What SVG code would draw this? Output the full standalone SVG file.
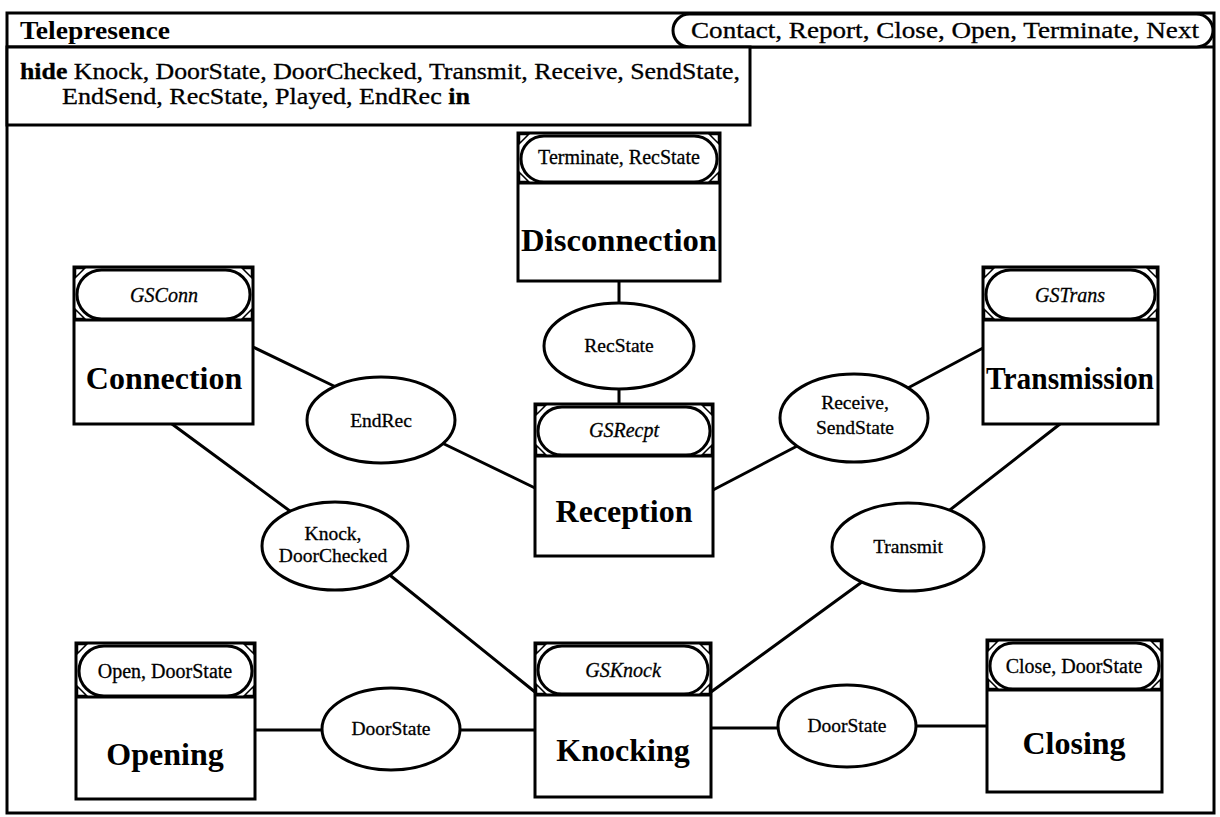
<svg xmlns="http://www.w3.org/2000/svg" width="1220" height="817" viewBox="0 0 1220 817">
  <style>
    .frame { fill: #fff; stroke: #000; stroke-width: 3; }
    .box { fill: #fff; stroke: #000; stroke-width: 3; }
    .pill { fill: #fff; stroke: #000; stroke-width: 3; }
    .corner { fill: #fff; stroke: #000; stroke-width: 1.5; }
    .sep { stroke: #000; stroke-width: 3; }
    .oval { fill: #fff; stroke: #000; stroke-width: 3; }
    .wire { stroke: #000; stroke-width: 3; fill: none; stroke-linecap: round; }
    text { font-family: "Liberation Serif", "Times New Roman", serif; fill: #000; }
    .title { font-size: 25px; font-weight: bold; }
    .hdr { font-size: 23px; stroke: #000; stroke-width: 0.3; }
    .name { font-size: 32px; font-weight: bold; text-anchor: middle; }
    .gate { font-size: 20px; text-anchor: middle; stroke: #000; stroke-width: 0.3; }
    .gs { font-size: 20px; font-style: italic; text-anchor: middle; stroke: #000; stroke-width: 0.3; }
    .lbl { font-size: 19.5px; text-anchor: middle; stroke: #000; stroke-width: 0.3; }
  </style>

  <!-- outer component frame -->
  <rect class="frame" x="7" y="13" width="1207" height="800"/>

  <g id="header">
    <line class="sep" x1="7" y1="47" x2="1214" y2="47"/>
    <text class="title" x="20" y="39" textLength="150" lengthAdjust="spacingAndGlyphs">Telepresence</text>
    <rect class="pill" x="673" y="14" width="540" height="33" rx="16.5"/>
    <text class="hdr" x="691" y="38" textLength="508" lengthAdjust="spacingAndGlyphs">Contact, Report, Close, Open, Terminate, Next</text>
  </g>

  <g id="hide-clause">
    <rect class="box" x="7" y="47" width="743" height="78"/>
    <text class="hdr" x="20" y="79" textLength="720" lengthAdjust="spacingAndGlyphs"><tspan font-weight="bold">hide</tspan> Knock, DoorState, DoorChecked, Transmit, Receive, SendState,</text>
    <text class="hdr" x="62" y="104" textLength="408" lengthAdjust="spacingAndGlyphs">EndSend, RecState, Played, EndRec <tspan font-weight="bold">in</tspan></text>
  </g>

  <!-- connectors (drawn beneath the nodes) -->
  <g id="connectors">
    <line class="wire" x1="619" y1="281" x2="619" y2="308"/>
    <line class="wire" x1="619" y1="385" x2="619" y2="404"/>
    <line class="wire" x1="253" y1="347" x2="338" y2="388"/>
    <line class="wire" x1="440" y1="442" x2="535" y2="488"/>
    <line class="wire" x1="713" y1="490" x2="801" y2="444"/>
    <line class="wire" x1="906" y1="389" x2="983" y2="348"/>
    <line class="wire" x1="172" y1="424" x2="294" y2="514"/>
    <line class="wire" x1="386" y1="572" x2="535" y2="692"/>
    <line class="wire" x1="1060" y1="424" x2="946" y2="513"/>
    <line class="wire" x1="866" y1="579" x2="711" y2="692"/>
    <line class="wire" x1="255" y1="730" x2="326" y2="730"/>
    <line class="wire" x1="456" y1="730" x2="535" y2="730"/>
    <line class="wire" x1="711" y1="728" x2="782" y2="728"/>
    <line class="wire" x1="912" y1="726" x2="987" y2="726"/>
  </g>

  <!-- component boxes: outer rect, gate pill, corner marks, separator, name -->
  <g id="disconnection">
    <rect class="box" x="518" y="133" width="202" height="148"/>
    <path class="corner" d="M519.5 134.5h9l-9 9z M718.5 134.5h-9l9 9z M519.5 181.5h9l-9-9z M718.5 181.5h-9l9-9z"/>
    <rect class="pill" x="521" y="136" width="196" height="46" rx="23"/>
    <line class="sep" x1="518" y1="183" x2="720" y2="183"/>
    <text class="gate" x="619" y="164">Terminate, RecState</text>
    <text class="name" x="619" y="251" textLength="196" lengthAdjust="spacingAndGlyphs">Disconnection</text>
  </g>

  <g id="connection">
    <rect class="box" x="74" y="267" width="179" height="157"/>
    <path class="corner" d="M75.5 268.5h9l-9 9z M251.5 268.5h-9l9 9z M75.5 318.5h9l-9-9z M251.5 318.5h-9l9-9z"/>
    <rect class="pill" x="77" y="270" width="173" height="49" rx="24.5"/>
    <line class="sep" x1="74" y1="320" x2="253" y2="320"/>
    <text class="gs" x="164" y="302">GSConn</text>
    <text class="name" x="164" y="389">Connection</text>
  </g>

  <g id="transmission">
    <rect class="box" x="983" y="267" width="175" height="157"/>
    <path class="corner" d="M984.5 268.5h9l-9 9z M1156.5 268.5h-9l9 9z M984.5 318.5h9l-9-9z M1156.5 318.5h-9l9-9z"/>
    <rect class="pill" x="986" y="270" width="169" height="49" rx="24.5"/>
    <line class="sep" x1="983" y1="320" x2="1158" y2="320"/>
    <text class="gs" x="1070" y="302">GSTrans</text>
    <text class="name" x="1070" y="389" textLength="168" lengthAdjust="spacingAndGlyphs">Transmission</text>
  </g>

  <g id="reception">
    <rect class="box" x="535" y="404" width="178" height="152"/>
    <path class="corner" d="M536.5 405.5h9l-9 9z M711.5 405.5h-9l9 9z M536.5 454.5h9l-9-9z M711.5 454.5h-9l9-9z"/>
    <rect class="pill" x="538" y="407" width="172" height="48" rx="24"/>
    <line class="sep" x1="535" y1="456" x2="713" y2="456"/>
    <text class="gs" x="624" y="437">GSRecpt</text>
    <text class="name" x="624" y="522">Reception</text>
  </g>

  <g id="opening">
    <rect class="box" x="76" y="643" width="179" height="156"/>
    <path class="corner" d="M77.5 644.5h9l-9 9z M253.5 644.5h-9l9 9z M77.5 695.5h9l-9-9z M253.5 695.5h-9l9-9z"/>
    <rect class="pill" x="79" y="646" width="173" height="50" rx="25"/>
    <line class="sep" x1="76" y1="697" x2="255" y2="697"/>
    <text class="gate" x="165" y="678">Open, DoorState</text>
    <text class="name" x="165" y="765">Opening</text>
  </g>

  <g id="knocking">
    <rect class="box" x="535" y="643" width="176" height="154"/>
    <path class="corner" d="M536.5 644.5h9l-9 9z M709.5 644.5h-9l9 9z M536.5 693.5h9l-9-9z M709.5 693.5h-9l9-9z"/>
    <rect class="pill" x="538" y="646" width="170" height="48" rx="24"/>
    <line class="sep" x1="535" y1="695" x2="711" y2="695"/>
    <text class="gs" x="623" y="677">GSKnock</text>
    <text class="name" x="623" y="761">Knocking</text>
  </g>

  <g id="closing">
    <rect class="box" x="987" y="640" width="175" height="152"/>
    <path class="corner" d="M988.5 641.5h9l-9 9z M1160.5 641.5h-9l9 9z M988.5 688.5h9l-9-9z M1160.5 688.5h-9l9-9z"/>
    <rect class="pill" x="990" y="643" width="169" height="46" rx="23"/>
    <line class="sep" x1="987" y1="690" x2="1162" y2="690"/>
    <text class="gate" x="1074" y="673">Close, DoorState</text>
    <text class="name" x="1074" y="754">Closing</text>
  </g>

  <!-- shared-event ovals -->
  <g id="ev-recstate">
    <ellipse class="oval" cx="619" cy="346" rx="75" ry="43"/>
    <text class="lbl" x="619" y="352">RecState</text>
  </g>
  <g id="ev-endrec">
    <ellipse class="oval" cx="381" cy="420" rx="74" ry="43"/>
    <text class="lbl" x="381" y="427">EndRec</text>
  </g>
  <g id="ev-receive">
    <ellipse class="oval" cx="854" cy="418" rx="74" ry="44"/>
    <text class="lbl" x="855" y="409">Receive,</text>
    <text class="lbl" x="855" y="434">SendState</text>
  </g>
  <g id="ev-knock">
    <ellipse class="oval" cx="335" cy="546" rx="73" ry="44"/>
    <text class="lbl" x="333" y="540">Knock,</text>
    <text class="lbl" x="333" y="562">DoorChecked</text>
  </g>
  <g id="ev-transmit">
    <ellipse class="oval" cx="908" cy="547" rx="76" ry="44"/>
    <text class="lbl" x="908" y="553">Transmit</text>
  </g>
  <g id="ev-doorstate-open">
    <ellipse class="oval" cx="391" cy="729" rx="69" ry="41"/>
    <text class="lbl" x="391" y="735">DoorState</text>
  </g>
  <g id="ev-doorstate-close">
    <ellipse class="oval" cx="847" cy="726" rx="69" ry="41"/>
    <text class="lbl" x="847" y="732">DoorState</text>
  </g>
</svg>
